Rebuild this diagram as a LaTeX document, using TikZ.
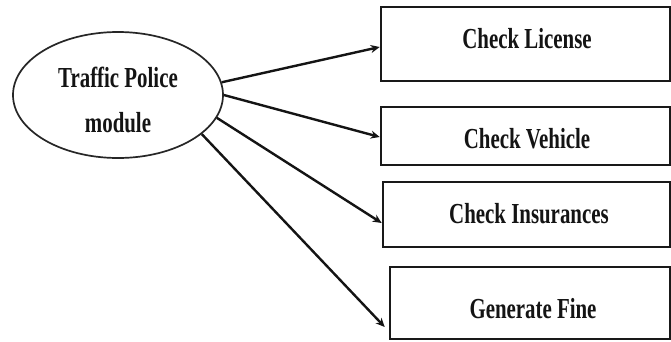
\documentclass[tikz,border=0pt]{standalone}
\usepackage{fontspec}
\newfontfamily\lblfont{Liberation Serif}[FakeStretch=0.72]
\usetikzlibrary{arrows.meta,shapes.geometric}
\begin{document}
\begin{tikzpicture}[x=1pt,y=-1pt,
  lbl/.style={font=\lblfont\bfseries\fontsize{29}{45}\selectfont, inner sep=0pt, text=black!92},
  boxnode/.style={draw=black!90, line width=2.6pt, rectangle, inner sep=0pt},
  elnode/.style={draw=black!85, line width=1.7pt, ellipse, inner sep=0pt, minimum width=210pt, minimum height=126pt},
  conn/.style={draw=black!92, line width=2.4pt, -{Stealth[length=9pt,width=8pt]}}]
\useasboundingbox (0,0) rectangle (671,341);
\fill[white] (0,0) rectangle (671,341);
% ellipse
\node[elnode] (el) at (118,95) {};
\node[lbl, align=center] (t0) at (118,100) {Traffic Police\\module};
% boxes
\node[boxnode, minimum width=289pt, minimum height=74pt] (b1) at (525.5,44) {};
\node[boxnode, minimum width=289pt, minimum height=58pt] (b2) at (525.5,136) {};
\node[boxnode, minimum width=287pt, minimum height=65pt] (b3) at (526.5,214.5) {};
\node[boxnode, minimum width=280pt, minimum height=72pt] (b4) at (530,303) {};
% labels
\node[lbl, anchor=base] (t1) at (527,48) {Check License};
\node[lbl, anchor=base] (t2) at (527,148) {Check Vehicle};
\node[lbl, anchor=base] (t3) at (529,223) {Check Insurances};
\node[lbl, anchor=base] (t4) at (533,318) {Generate Fine};
% connectors
\draw[conn] (el.7.5) -- ([yshift=-3pt]b1.west);
\draw[conn] (el.0.5) -- ([yshift=-1pt]b2.west);
\draw[conn] (el.-13) -- ([yshift=-8.5pt]b3.west);
\draw[conn] (el.-25) -- ([xshift=-4pt,yshift=-24pt]b4.west);
\end{tikzpicture}
\end{document}
